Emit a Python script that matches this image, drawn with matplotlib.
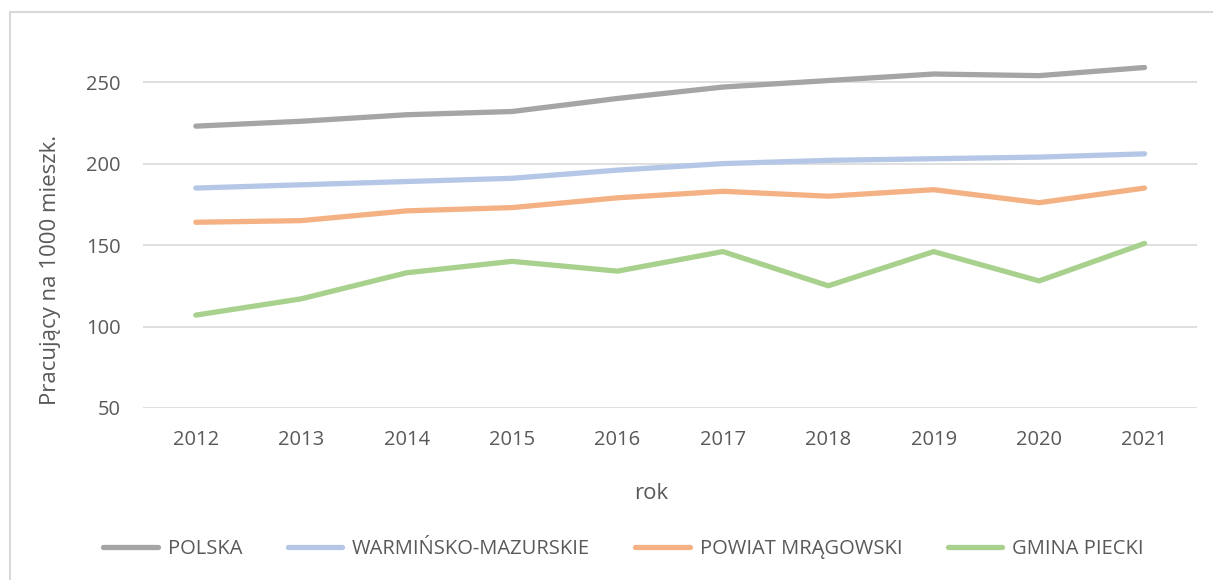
import numpy as np
import matplotlib.pyplot as plt
from matplotlib.patches import Rectangle

years = [2012, 2013, 2014, 2015, 2016, 2017, 2018, 2019, 2020, 2021]
polska = [223, 226, 230, 232, 240, 247, 251, 255, 254, 259]
warm_maz = [185, 187, 189, 191, 196, 200, 202, 203, 204, 206]
powiat = [164, 165, 171, 173, 179, 183, 180, 184, 176, 185]
gmina = [107, 117, 133, 140, 134, 146, 125, 146, 128, 151]

names = ['POLSKA', 'WARMIŃSKO-MAZURSKIE', 'POWIAT MRĄGOWSKI', 'GMINA PIECKI']
colors = ['#A5A5A5', '#B4C7E7', '#F4B183', '#A9D18E']

plt.rcParams['font.family'] = ['Open Sans', 'DejaVu Sans']
txt = '#595959'

fig = plt.figure(figsize=(12.13, 5.8), dpi=100)
ax = fig.add_axes([0.118, 0.2966, 0.869, 0.646])

x = np.arange(len(years))
for ser, name, c in zip([polska, warm_maz, powiat, gmina], names, colors):
    ax.plot(x, ser, color=c, lw=3.8, label=name, solid_capstyle='round', solid_joinstyle='round')

ax.set_xlim(-0.5, len(years) - 0.5)
ax.set_ylim(50, 280)
ax.set_yticks([50, 100, 150, 200, 250])
ax.set_xticks(x)
ax.set_xticklabels([str(y) for y in years])
ax.grid(axis='y', color='#D9D9D9', lw=1.2)
ax.set_axisbelow(True)
for s in ax.spines.values():
    s.set_visible(False)
ax.tick_params(length=0, labelsize=14.5, colors=txt)
ax.tick_params(axis='x', pad=16)
ax.tick_params(axis='y', pad=16)
ax.set_xlabel('rok', fontsize=16, color=txt)
ax.xaxis.set_label_coords(0.482, -0.2)
ax.set_ylabel('Pracujący na 1000 mieszk.', fontsize=16, color=txt, va='center')
ax.yaxis.set_label_coords(-0.088, 0.368)

fig.legend(loc='center', bbox_to_anchor=(0.514, 0.053), ncol=4, frameon=False,
           fontsize=14.5, labelcolor=txt, handlelength=2.7, handletextpad=0.5,
           columnspacing=2.25)

fig.patches.append(Rectangle((0.0082, -0.1), 1.2, 1.079, transform=fig.transFigure,
                             fill=False, ec='#D9D9D9', lw=1.5))

fig.savefig('out.png', dpi=100)
